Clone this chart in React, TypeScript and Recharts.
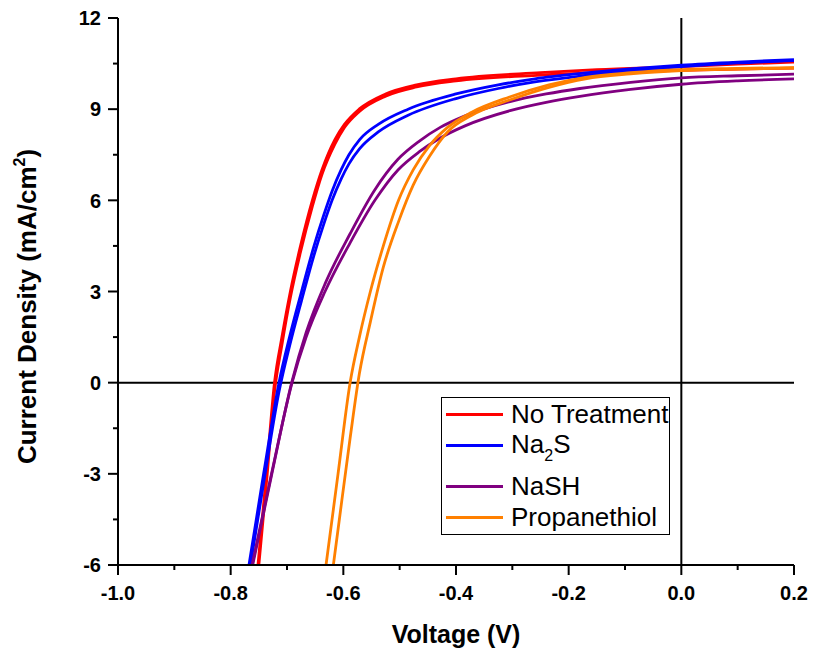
import React from "react";
import { LineChart, Line, XAxis, YAxis, ReferenceLine, Legend } from "recharts";

const FONT = "Arial, 'Liberation Sans', sans-serif";

const xMajorTicks = [-1.0, -0.8, -0.6, -0.4, -0.2, 0.0, 0.2];
const xMinorTicks = [-0.9, -0.7, -0.5, -0.3, -0.1, 0.1];
const yMajorTicks = [-6, -3, 0, 3, 6, 9, 12];
const yMinorTicks = [-4.5, -1.5, 1.5, 4.5, 7.5, 10.5];

// voltage (V) and current density (mA/cm2), two scans per sample
const vNoTreatment = [-0.7515, -0.7365, -0.7222, -0.709, -0.694, -0.676, -0.655, -0.638, -0.615, -0.598, -0.572, -0.525, -0.47, -0.4, -0.25, -0.15, 0.0, 0.1, 0.2];
const jNoTreatment1 = [-6.0, -3.0, 0.0, 1.5, 3.0, 4.5, 6.0, 7.0, 8.0, 8.5, 9.0, 9.5, 9.8, 10.0, 10.2, 10.3, 10.4, 10.48, 10.55];
const jNoTreatment2 = [-6.3, -3.3, -0.3, 1.25, 2.8, 4.3, 5.8, 6.85, 7.85, 8.4, 8.92, 9.43, 9.73, 9.93, 10.12, 10.2, 10.28, 10.32, 10.35];

const vNa2S = [-0.7675, -0.7415, -0.7142, -0.6955, -0.6742, -0.652, -0.635, -0.62, -0.604, -0.59, -0.571, -0.538, -0.485, -0.4, -0.325, -0.26, -0.165, 0.0, 0.1, 0.2];
const jNa2S1 = [-6.0, -3.0, 0.0, 1.5, 3.0, 4.5, 5.5, 6.3, 7.0, 7.5, 8.0, 8.5, 9.0, 9.5, 9.8, 10.0, 10.2, 10.45, 10.55, 10.63];
const jNa2S2 = [-6.3, -3.3, -0.3, 1.2, 2.7, 4.2, 5.2, 6.0, 6.7, 7.2, 7.7, 8.25, 8.8, 9.35, 9.68, 9.9, 10.12, 10.4, 10.52, 10.6];

const vNaSH = [-0.762, -0.7275, -0.691, -0.666, -0.6325, -0.588, -0.544, -0.503, -0.465, -0.428, -0.384, -0.304, -0.24, -0.18, -0.09, 0.0, 0.1, 0.2];
const jNaSH1 = [-6.0, -3.0, 0.0, 1.5, 3.0, 4.6, 6.0, 7.0, 7.6, 8.05, 8.45, 8.95, 9.22, 9.42, 9.65, 9.82, 9.93, 10.0];
const jNaSH2 = [-6.1, -3.05, 0.05, 1.65, 3.25, 4.9, 6.35, 7.35, 7.95, 8.4, 8.78, 9.25, 9.5, 9.68, 9.88, 10.03, 10.1, 10.15];

const vPropanethiol = [-0.6307, -0.6094, -0.588, -0.5715, -0.552, -0.529, -0.502, -0.476, -0.447, -0.415, -0.372, -0.305, -0.235, -0.17, -0.09, 0.0, 0.1, 0.2];
const jPropanethiol1 = [-6.0, -3.0, 0.0, 1.5, 3.0, 4.5, 6.0, 7.0, 7.8, 8.4, 8.9, 9.4, 9.8, 10.05, 10.2, 10.3, 10.34, 10.37];
const jPropanethiol2 = [-7.83, -4.83, -1.83, 0.3, 2.0, 3.8, 5.3, 6.5, 7.45, 8.25, 8.8, 9.3, 9.72, 10.0, 10.16, 10.27, 10.32, 10.35];

const zip = (v: number[], j: number[]) => v.map((x, i) => ({ v: x, j: j[i] }));

const series = [
  { key: "noTreatment", color: "#ff0000", v: vNoTreatment, scans: [jNoTreatment1, jNoTreatment2] },
  { key: "na2s", color: "#0000ff", v: vNa2S, scans: [jNa2S1, jNa2S2] },
  { key: "nash", color: "#800080", v: vNaSH, scans: [jNaSH1, jNaSH2] },
  { key: "propanethiol", color: "#ff8000", v: vPropanethiol, scans: [jPropanethiol1, jPropanethiol2] },
];

const legendLabels: Record<string, React.ReactNode> = {
  noTreatment: "No Treatment",
  na2s: (
    <span>
      Na<span style={{ fontSize: 16, position: "relative", top: 8 }}>2</span>S
    </span>
  ),
  nash: "NaSH",
  propanethiol: "Propanethiol",
};

function XTick({ x, y, payload }: any) {
  const major = xMajorTicks.includes(payload.value);
  return (
    <g>
      <line x1={x} x2={x} y1={y} y2={y + (major ? 10 : 5)} stroke="#000" strokeWidth={2} />
      {major && (
        <text x={x} y={y + 35} textAnchor="middle" fontFamily={FONT} fontWeight="bold" fontSize={20} fill="#000">
          {payload.value.toFixed(1)}
        </text>
      )}
    </g>
  );
}

function YTick({ x, y, payload }: any) {
  const major = yMajorTicks.includes(payload.value);
  return (
    <g>
      <line x1={x - (major ? 10 : 5)} x2={x} y1={y} y2={y} stroke="#000" strokeWidth={2} />
      {major && (
        <text x={x - 17} y={y} dy="0.36em" textAnchor="end" fontFamily={FONT} fontWeight="bold" fontSize={20} fill="#000">
          {payload.value}
        </text>
      )}
    </g>
  );
}

function XTitle({ viewBox }: any) {
  const { x, y, width } = viewBox;
  return (
    <text x={x + width / 2} y={y + 78} textAnchor="middle" fontFamily={FONT} fontWeight="bold" fontSize={25} fill="#000">
      Voltage (V)
    </text>
  );
}

function YTitle({ viewBox }: any) {
  const { y, height } = viewBox;
  const cy = y + height / 2 + 15;
  return (
    <text
      transform={`translate(36, ${cy}) rotate(-90)`}
      textAnchor="middle"
      fontFamily={FONT}
      fontWeight="bold"
      fontSize={26}
      fill="#000"
    >
      Current Density (mA/cm
      <tspan dy={-11} fontSize={16}>2</tspan>
      <tspan dy={11}>)</tspan>
    </text>
  );
}

function LegendBox() {
  return (
    <div
      style={{
        border: "1px solid #000",
        background: "#fff",
        boxSizing: "border-box",
        width: 229,
        padding: "1px 0 1px 4px",
        fontFamily: FONT,
        fontSize: 26,
        color: "#000",
      }}
    >
      {series.map((s) => (
        <div
          key={s.key}
          style={{ display: "flex", alignItems: "center", height: 31, marginBottom: s.key === "na2s" ? 10 : 0 }}
        >
          <span style={{ display: "inline-block", width: 57, height: 3, background: s.color, marginRight: 8 }} />
          <span style={{ whiteSpace: "nowrap", lineHeight: "31px" }}>{legendLabels[s.key]}</span>
        </div>
      ))}
    </div>
  );
}

export default function App() {
  return (
    <div style={{ position: "absolute", left: 0, top: 0, width: 814, height: 651, background: "#fff" }}>
      <LineChart width={814} height={651} margin={{ top: 18, right: 20, bottom: 0, left: 0 }}>
        <XAxis
          type="number"
          dataKey="v"
          domain={[-1.0, 0.2]}
          allowDataOverflow
          ticks={[...xMajorTicks, ...xMinorTicks].sort((a, b) => a - b)}
          interval={0}
          tickLine={false}
          tickSize={0}
          tickMargin={0}
          tick={<XTick />}
          height={86}
          axisLine={{ stroke: "#000", strokeWidth: 2 }}
          label={<XTitle />}
        />
        <YAxis
          type="number"
          domain={[-6, 12]}
          allowDataOverflow
          ticks={[...yMajorTicks, ...yMinorTicks].sort((a, b) => a - b)}
          interval={0}
          tickLine={false}
          tickSize={0}
          tickMargin={0}
          tick={<YTick />}
          width={118}
          axisLine={{ stroke: "#000", strokeWidth: 2 }}
          label={<YTitle />}
        />
        <ReferenceLine x={0} stroke="#000" strokeWidth={2} />
        <ReferenceLine y={0} stroke="#000" strokeWidth={2} />
        {series.map((s) =>
          s.scans.map((scan, i) => (
            <Line
              key={`${s.key}-${i}`}
              data={zip(s.v, scan)}
              dataKey="j"
              type="monotone"
              stroke={s.color}
              strokeWidth={2.8}
              dot={false}
              legendType={i === 0 ? "line" : "none"}
              isAnimationActive={false}
            />
          ))
        )}
        <Legend
          layout="vertical"
          align="center"
          verticalAlign="middle"
          content={() => <LegendBox />}
          wrapperStyle={{ left: 441, top: 397, width: 229, height: "auto" }}
        />
      </LineChart>
    </div>
  );
}
